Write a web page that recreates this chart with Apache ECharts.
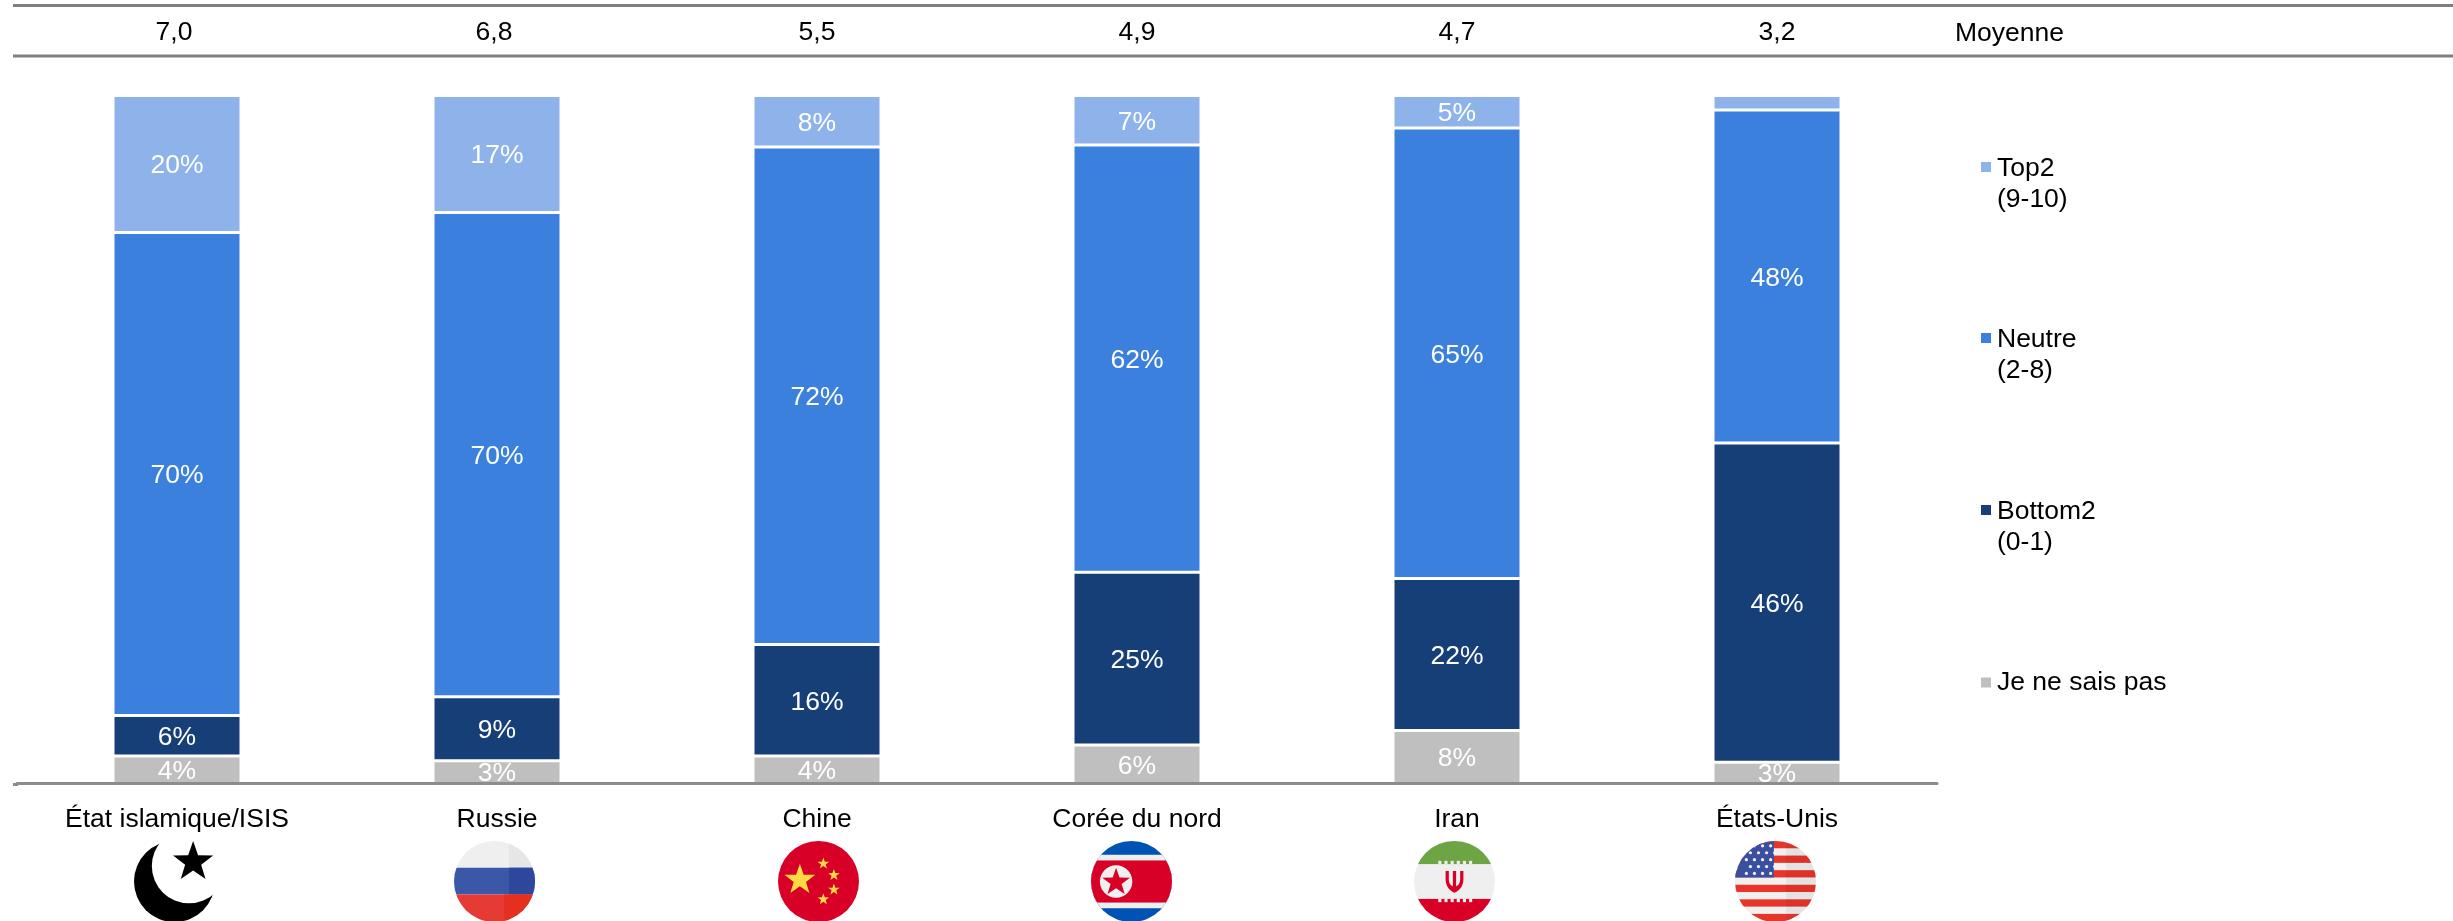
<!DOCTYPE html>
<html><head><meta charset="utf-8">
<style>html,body{margin:0;padding:0;background:#fff;overflow:hidden}#c{width:2453px;height:921px}</style>
<script src="https://cdn.jsdelivr.net/npm/echarts@6/dist/echarts.min.js"></script>
</head><body><div id="c"></div>
<script>
const categories = ['État islamique/ISIS','Russie','Chine','Corée du nord','Iran','États-Unis'];
const means = ['7,0','6,8','5,5','4,9','4,7','3,2'];
const dontKnow = [4.0,3.3,4.0,5.6,7.7,3.1];
const bottom2  = [5.9,9.3,16.2,25.1,22.1,46.4];
const neutre   = [70.2,70.4,72.3,62.1,65.49,48.4];
const top2     = [19.9,17.0,7.5,7.2,4.71,2.1];
const names = ['Top2\n(9-10)','Neutre\n(2-8)','Bottom2\n(0-1)','Je ne sais pas'];
const colors = ['#8DB3EA','#3B80DC','#163F78','#BFBFBF'];
const FONT = '"Liberation Sans", Arial, sans-serif';
const FS = 26.5;

function star(cx,cy,r,fill){
  let p=[];
  for(let i=0;i<10;i++){
    const a=-Math.PI/2+i*Math.PI/5, q=i%2?r*0.4:r;
    p.push((cx+q*Math.cos(a)).toFixed(2)+','+(cy+q*Math.sin(a)).toFixed(2));
  }
  return `<polygon points="${p.join(' ')}" fill="${fill}"/>`;
}
function flag(body,noClip){
  const s=`<svg xmlns="http://www.w3.org/2000/svg" width="81" height="81" viewBox="0 0 100 100"><defs><clipPath id="k"><circle cx="50" cy="50" r="50"/></clipPath></defs><g ${noClip?'':'clip-path="url(#k)"'}>${body}</g></svg>`;
  return 'data:image/svg+xml;charset=utf-8,'+encodeURIComponent(s);
}
const isis = flag(`<circle cx="50" cy="50" r="50" fill="#000"/><circle cx="68" cy="31" r="46" fill="#fff"/>`+star(73,26,26,'#000'),true);
const russia = flag(`<rect width="100" height="33" fill="#EFEFEF"/><rect x="68" width="32" height="33" fill="#E6E6E6"/>
<rect y="33" width="100" height="33" fill="#3A57A8"/><rect x="68" y="33" width="32" height="33" fill="#2C479C"/>
<rect y="66" width="100" height="34" fill="#E63B35"/><rect x="62" y="66" width="38" height="34" fill="#E5301F"/>`);
const china = flag(`<rect width="100" height="100" fill="#D80027"/>`+star(27,48,20,'#FFDA44')+star(56,28,7.5,'#FFDA44')+star(69,42,7.5,'#FFDA44')+star(69,60,7.5,'#FFDA44')+star(56,72,7.5,'#FFDA44'));
const nk = flag(`<rect width="100" height="100" fill="#0052B4"/><rect y="17" width="100" height="66" fill="#EFEFEF"/><rect y="24" width="100" height="52" fill="#D80027"/><circle cx="31" cy="50" r="20" fill="#EFEFEF"/>`+star(31,51,18,'#D80027'));
let dash='';
for(let i=0;i<6;i++){
  const x=30+i*7.6;
  dash+=`<rect x="${x}" y="24.5" width="3.8" height="4" fill="#EFEFEF"/><rect x="${x}" y="71.5" width="3.8" height="4" fill="#EFEFEF"/>`;
}
const iran = flag(`<rect width="100" height="100" fill="#EFEFEF"/><rect width="100" height="28.5" fill="#6DA544"/><rect y="71.5" width="100" height="28.5" fill="#D80027"/>${dash}
<path d="M39 37H43V47C43 53 46 55 48 56V37H52V56C54 55 57 53 57 47V37H61V47C61 57 55 62 50 64C45 62 39 57 39 47Z" fill="#D80027"/>`);
let stripes='', dots='';
for(let i=0;i<6;i++) stripes+=`<rect y="${i*18}" width="100" height="9" fill="#E8352A"/>`;
for(let r=0;r<5;r++) for(let c=0;c<4;c++) dots+=`<circle cx="${14+c*10+(r%2?5:0)}" cy="${6+r*8.5}" r="2" fill="#F2F2F2"/>`;
const usa = flag(`<rect width="100" height="100" fill="#F0F0F0"/>${stripes}<rect x="63" width="37" height="100" fill="#000" opacity="0.05"/><rect width="48" height="45" fill="#3A4FA0"/>${dots}`);

const flagImgs = [[134,isis],[454,russia],[778,china],[1091,nk],[1414,iran],[1735,usa]];

const chart = echarts.init(document.getElementById('c'),null,{renderer:'canvas'});
const series = [[names[3],dontKnow,colors[3]],[names[2],bottom2,colors[2]],[names[1],neutre,colors[1]],[names[0],top2,colors[0]]].map(([name,data,color])=>({
  name,type:'bar',stack:'s',data,barWidth:128,
  itemStyle:{color,borderColor:'#fff',borderWidth:1.5},
  label:{show:true,position:'inside',offset:[0,2],color:'#fff',fontFamily:FONT,fontSize:FS,
    formatter:p=>p.value<3?'':Math.round(p.value)+'%'},
  emphasis:{disabled:true}
}));
const legendTop=[152,323,495,667];
const tall='path://M0 0h.01v.01h-.01zM0 8h12v12h-12zM0 62h.01v.01h-.01z';
const legend = names.map((n,i)=>({
  data:[{name:n,icon:i<3?tall:'rect'}],left:1979,top:legendTop[i],orient:'vertical',padding:0,
  itemWidth:12,itemHeight:i<3?62:12,selectedMode:false,
  textStyle:{fontFamily:FONT,fontSize:FS,color:'#000',lineHeight:31}
}));
const line=(x1,y,x2,w,col)=>({type:'line',shape:{x1,y1:y,x2,y2:y},style:{stroke:col,lineWidth:w},silent:true});
chart.setOption({
  animation:false,backgroundColor:'#fff',
  textStyle:{fontFamily:FONT},
  grid:{left:17,width:1920,top:95.5,height:688,containLabel:false},
  xAxis:[
    {type:'category',data:categories,position:'bottom',z:5,
      axisLine:{lineStyle:{color:'#8C8C8C',width:3}},axisTick:{show:false},
      axisLabel:{interval:0,color:'#000',fontFamily:FONT,fontSize:FS,margin:23}},
    {type:'category',data:means,position:'top',offset:49,
      axisLine:{show:false},axisTick:{show:false},
      axisLabel:{interval:0,color:'#000',fontFamily:FONT,fontSize:FS,margin:0,
        formatter:(v,i)=>i<2?'{s|'+v+'}':v,
        rich:{s:{padding:[0,6,0,0],fontFamily:FONT,fontSize:FS,color:'#000'}}}}
  ],
  yAxis:{type:'value',min:0,max:100,show:false,splitLine:{show:false}},
  legend,
  series,
  graphic:[
    line(13,5.5,2453,3,'#7F7F7F'),
    line(13,56,2453,3,'#7F7F7F'),
    line(13,784.5,18,3,'#8C8C8C'),
    {type:'text',left:1955,top:20,silent:true,style:{text:'Moyenne',font:FS+'px '+FONT,fill:'#000'}},
    ...flagImgs.map(([x,img])=>({type:'image',x,y:841,silent:true,style:{image:img,x:0,y:0,width:81,height:81}}))
  ]
});
</script></body></html>
